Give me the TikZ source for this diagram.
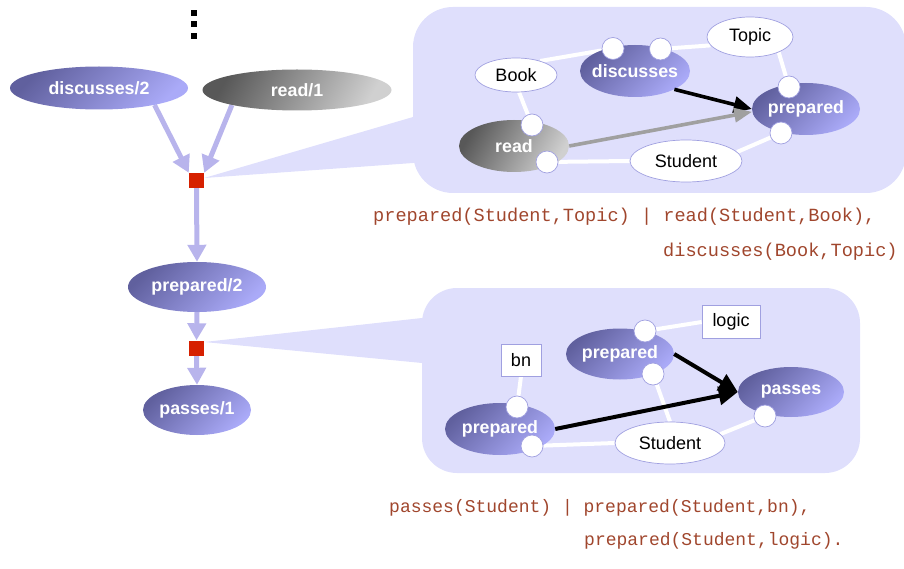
\documentclass[tikz,border=0pt]{standalone}
\usepackage{fontspec}
\setmainfont{Liberation Sans}
\setmonofont{Liberation Mono}
\usetikzlibrary{shapes.geometric,arrows.meta}
\pgfdeclarelayer{back}
\pgfdeclarelayer{edges}
\pgfsetlayers{back,edges,main}

\definecolor{calloutbg}{RGB}{223,223,252}
\definecolor{flowc}{RGB}{184,180,236}
\definecolor{purpdark}{RGB}{96,96,158}
\definecolor{purplight}{RGB}{170,170,248}
\definecolor{greydark}{RGB}{88,88,88}
\definecolor{greylight}{RGB}{208,208,208}
\definecolor{rimc}{RGB}{160,160,224}
\definecolor{codec}{RGB}{160,70,45}
\definecolor{markred}{RGB}{214,32,0}
\definecolor{greyarrow}{RGB}{160,160,160}

\tikzset{
  pred/.style={ellipse, inner sep=0, top color=purpdark, bottom color=purplight,
    shading angle=45, text=white, font=\bfseries\fontsize{17.8}{20}\selectfont},
  greypred/.style={pred, top color=greydark, bottom color=greylight, shading angle=60},
  term/.style={ellipse, draw=rimc, line width=0.7pt, fill=white, inner sep=0,
    font=\fontsize{18}{20}\selectfont},
  const/.style={rectangle, draw=rimc, line width=0.7pt, fill=white, inner sep=0,
    font=\fontsize{18}{20}\selectfont},
  port/.style={circle, draw=rimc, line width=0.7pt, fill=white, minimum size=22pt, inner sep=0},
  link/.style={draw=white, line width=4pt},
  flow/.style={draw=flowc, line width=5pt, -{Triangle[length=17pt,width=18pt]}},
  dep/.style={draw=black, line width=3.6pt, -{Triangle[length=18pt,width=16pt]}},
  weakdep/.style={draw=greyarrow, line width=3.6pt, -{Triangle[length=18pt,width=14pt]}},
  joint/.style={rectangle, fill=markred, minimum size=15pt, inner sep=0},
  dotmark/.style={rectangle, fill=black, minimum size=6pt, inner sep=0},
  code/.style={anchor=base west, inner sep=0, text=codec},
}

\begin{document}
\begin{tikzpicture}[x=1pt, y=-1pt]
\useasboundingbox (0,0) rectangle (904,569);

% ---- dependency graph of predicates ----
\node[dotmark] (dota) at (194,13.5) {};
\node[dotmark] (dotb) at (194,24.5) {};
\node[dotmark] (dotc) at (194,36.5) {};

\node[pred, minimum width=178pt, minimum height=43pt] (d2) at (99,88) {discusses/2};
\node[greypred, minimum width=189pt, minimum height=41pt] (r1) at (297,90) {read/1};
\node[joint] (sq1) at (196.5,180.5) {};
\node[pred, minimum width=138pt, minimum height=50pt] (p2) at (197,287) {prepared/2};
\node[joint] (sq2) at (196.5,348) {};
\node[pred, minimum width=108pt, minimum height=50pt] (pa1) at (197,410) {passes/1};

\begin{pgfonlayer}{edges}
  \draw[flow] (d2.-17) -- (sq1.north west);
  \draw[flow] (r1.193) -- (sq1.north east);
  \draw[flow] (sq1.south) -- (p2.north);
  \draw[flow] (p2.south) -- (sq2.north);
  \draw[flow] (sq2.south) -- (pa1.north);
\end{pgfonlayer}

% ---- callout backgrounds ----
\begin{pgfonlayer}{back}
  \fill[calloutbg, rounded corners=40pt] (413,7) rectangle (906,193);
  \fill[calloutbg] (sq1.east) ++(0,-2.5) -- (413,117) -- (440,117) -- (440,163) -- (413,163) -- cycle;
  \fill[calloutbg, rounded corners=35pt] (422,288) rectangle (860,473);
  \fill[calloutbg] (sq2.east) ++(0,-6) -- (422,318) -- (450,318) -- (450,363) -- (422,363) -- cycle;
\end{pgfonlayer}

% ---- first clause ----
\node[term, minimum width=82pt, minimum height=34pt] (book) at (516,75) {Book};
\node[pred, minimum width=110pt, minimum height=52pt] (disc) at (635,71) {\makebox[0pt]{discusses}};
\node[term, minimum width=86pt, minimum height=40pt] (topic) at (750,37) {Topic};
\node[pred, minimum width=108pt, minimum height=52pt] (prep) at (806,109) {\makebox[0pt]{prepared}};
\node[greypred, minimum width=110pt, minimum height=52pt] (rd) at (514,146) {\makebox[0pt]{read}};
\node[term, minimum width=112pt, minimum height=42pt] (stud) at (686,161) {Student};

\node[port] (dp1) at (613,48.5) {};
\node[port] (dp2) at (660.5,49) {};
\node[port] (pp1) at (789,87) {};
\node[port] (pp2) at (781,133) {};
\node[port] (rp1) at (532,125) {};
\node[port] (rp2) at (547,162) {};

\begin{pgfonlayer}{edges}
  \draw[link] (book.30) -- (dp1);
  \draw[link] (dp2) -- (topic.192);
  \draw[link] (topic.-28) -- (pp1);
  \draw[link] (book.-80) -- (rp1);
  \draw[link] (rp2) -- (stud.west);
  \draw[link] (stud.10) -- (pp2);
\end{pgfonlayer}

\draw[dep] (disc.-25) -- (prep.west);
\draw[weakdep] (rd.east) -- (prep.183);

\node[code, font=\ttfamily\fontsize{18.6}{20}\selectfont] (c1a) at (373,222)
  {prepared(Student,Topic) | read(Student,Book),};
\node[code, font=\ttfamily\fontsize{18.6}{20}\selectfont] (c1b) at (663,257)
  {discusses(Book,Topic)};

% ---- second clause ----
\node[const, minimum width=40pt, minimum height=32pt] (bn) at (521,360) {bn};
\node[const, minimum width=58pt, minimum height=33pt] (logic) at (731,322) {logic};
\node[pred, minimum width=108pt, minimum height=51pt] (pra) at (620,354) {\makebox[0pt]{prepared}};
\node[pred, minimum width=110pt, minimum height=52pt] (prb) at (500,429) {\makebox[0pt]{prepared}};
\node[pred, minimum width=106pt, minimum height=50pt] (pas) at (791,392) {\makebox[0pt]{passes}};
\node[term, minimum width=110pt, minimum height=42pt] (stud2) at (670,443) {Student};

\node[port] (qa1) at (645,331) {};
\node[port] (qa2) at (653,374) {};
\node[port] (qb1) at (517,407) {};
\node[port] (qb2) at (532,446) {};
\node[port] (sp1) at (765,416) {};

\begin{pgfonlayer}{edges}
  \draw[link] (qa1) -- (logic.west);
  \draw[link] (bn.south) -- (qb1);
  \draw[link] (qa2) -- (stud2.north);
  \draw[link] (qb2) -- (stud2.west);
  \draw[link] (stud2.10) -- (sp1);
\end{pgfonlayer}

\draw[dep, line width=4pt, -{Triangle[length=19pt,width=18pt]}] (pra.east) -- (pas.west);
\draw[dep, line width=4pt, -{Triangle[length=19pt,width=18pt]}] (prb.east) -- (pas.west);

\node[code, font=\ttfamily\fontsize{18}{20}\selectfont] (c2a) at (389,512)
  {passes(Student) | prepared(Student,bn),};
\node[code, font=\ttfamily\fontsize{18}{20}\selectfont] (c2b) at (584,545)
  {prepared(Student,logic).};
\end{tikzpicture}
\end{document}
